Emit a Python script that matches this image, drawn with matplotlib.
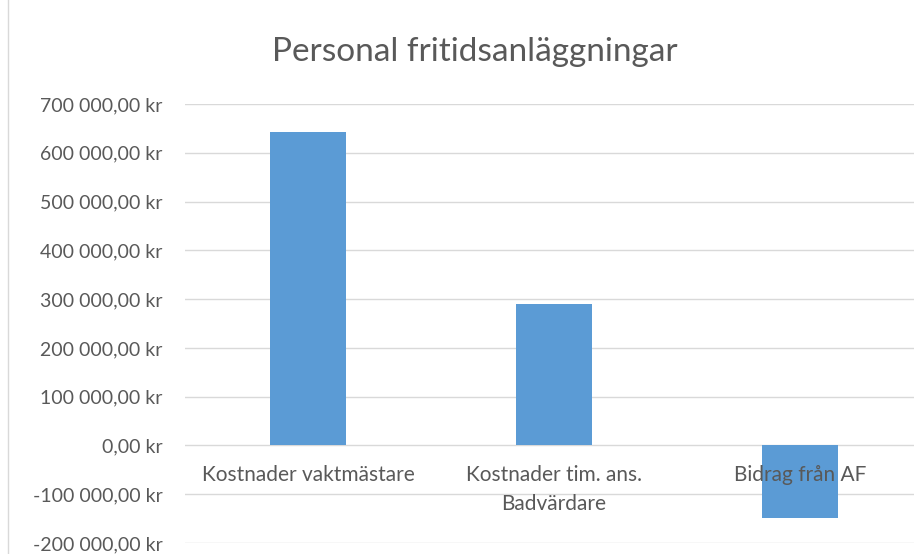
import matplotlib
matplotlib.use('Agg')
import matplotlib.pyplot as plt
from matplotlib.lines import Line2D

categories = ['Kostnader vaktmästare', 'Kostnader tim. ans.\nBadvärdare', 'Bidrag från AF']
values = [643000, 289000, -149000]
yticks = list(range(-200000, 700001, 100000))

plt.rcParams['font.family'] = ['Lato', 'DejaVu Sans']
grey = '#595959'


def kr(v):
    s = f'{abs(v):,.0f}'.replace(',', ' ')
    return ('-' if v < 0 else '') + s + ',00 kr'


fig = plt.figure(figsize=(9.14, 5.54), dpi=100)
ax = fig.add_axes([185 / 914, 1 - 543 / 554, 738 / 914, (543 - 104) / 554])

x = range(len(categories))
ax.bar(x, values, width=0.31, color='#5B9BD5', zorder=2)

ax.set_xlim(-0.5, 2.5)
ax.set_ylim(-200000, 700000)
ax.set_yticks(yticks)
ax.set_yticklabels([kr(v) for v in yticks], color=grey, fontsize=14)
ax.set_xticks([])
ax.grid(axis='y', color='#D9D9D9', linewidth=1, zorder=0)
ax.tick_params(axis='y', length=0, pad=16)
for s in ax.spines.values():
    s.set_visible(False)

for i, lab in enumerate(categories):
    ax.annotate(lab, (i, 0), xytext=(0, -14), textcoords='offset points',
                ha='center', va='top', color=grey, fontsize=15,
                linespacing=1.6, zorder=3)

fig.text(475 / 914, 1 - 52 / 554, 'Personal fritidsanläggningar', ha='center',
         va='center', color=grey, fontsize=24)
fig.add_artist(Line2D([8 / 914, 8 / 914], [0, 1], color='#D9D9D9', linewidth=1))

fig.savefig('out.png', dpi=100)
